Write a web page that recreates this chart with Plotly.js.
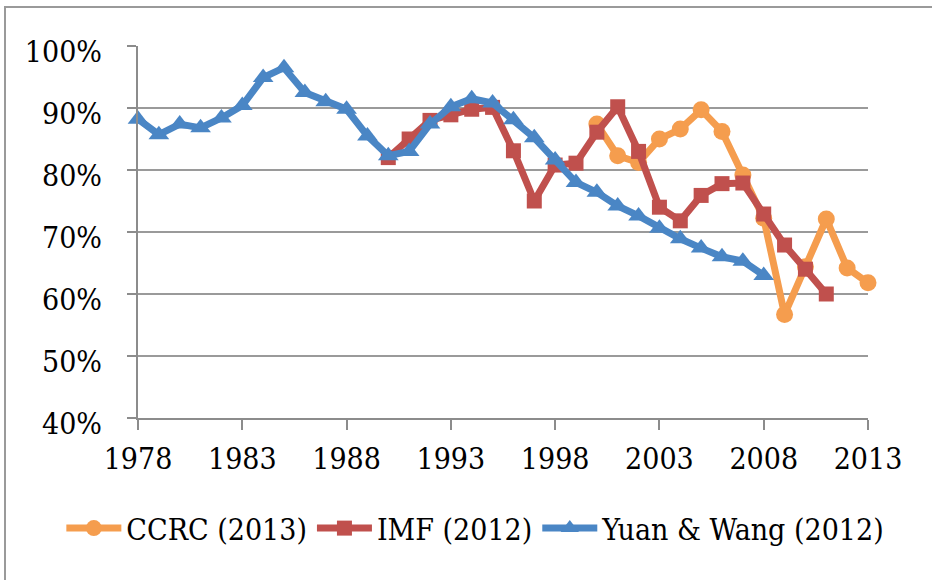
<!DOCTYPE html>
<html>
<head>
<meta charset="utf-8">
<script src="https://cdn.plot.ly/plotly-3.0.1.min.js"></script>
<style>
  html, body { margin: 0; padding: 0; background: #fff; }
  #wrap { position: relative; width: 932px; height: 580px; overflow: hidden; }
  #chart { width: 932px; height: 580px; }
  #frame { position: absolute; left: 4px; top: 6px; width: 1200px; height: 1200px;
           border-left: 2px solid #9a9a9a; border-top: 2px solid #9a9a9a; pointer-events: none; }
</style>
</head>
<body>
<div id="wrap">
  <div id="chart"></div>
  <div id="frame"></div>
</div>
<script>
// ---- data (share values, %) ----
const ccrcYears = [2000, 2001, 2002, 2003, 2004, 2005, 2006, 2007, 2008, 2009, 2010, 2011, 2012, 2013];
const ccrcValues = [87.4, 82.3, 81.2, 85.0, 86.6, 89.7, 86.2, 79.2, 72.2, 56.7, 64.4, 72.1, 64.2, 61.8];

const imfYears = [1990, 1991, 1992, 1993, 1994, 1995, 1996, 1997, 1998, 1999, 2000,
                  2001, 2002, 2003, 2004, 2005, 2006, 2007, 2008, 2009, 2010, 2011];
const imfValues = [82.0, 85.0, 88.0, 88.9, 89.8, 90.1, 83.1, 75.0, 80.8, 81.1, 86.1,
                   90.2, 83.0, 74.0, 71.8, 75.9, 77.8, 77.9, 72.9, 67.9, 64.0, 60.0];

const ywYears = [1978, 1979, 1980, 1981, 1982, 1983, 1984, 1985, 1986, 1987, 1988,
                 1989, 1990, 1991, 1992, 1993, 1994, 1995, 1996, 1997, 1998,
                 1999, 2000, 2001, 2002, 2003, 2004, 2005, 2006, 2007, 2008];
const ywValues = [88.2, 85.7, 87.4, 86.8, 88.4, 90.4, 94.9, 96.5, 92.5, 91.0, 89.8,
                  85.5, 82.3, 83.0, 87.4, 90.2, 91.5, 90.8, 88.1, 85.2, 81.6,
                  78.0, 76.4, 74.2, 72.6, 70.6, 68.9, 67.4, 66.0, 65.3, 63.0];

const seriesNames = ["CCRC (2013)", "IMF (2012)", "Yuan & Wang (2012)"];
const xTickVals = [1978, 1983, 1988, 1993, 1998, 2003, 2008, 2013];
const yTickVals = [40, 50, 60, 70, 80, 90, 100];

const FONT = '"DejaVu Serif Condensed", "DejaVu Serif", "Liberation Serif", serif';
const FS = 30;

const traces = [
  { x: ccrcYears, y: ccrcValues, name: seriesNames[0], type: 'scatter', mode: 'lines+markers', cliponaxis: false,
    line: { color: '#F59D4E', width: 7 }, marker: { symbol: 'circle', size: 17, color: '#F59D4E' } },
  { x: imfYears, y: imfValues, name: seriesNames[1], type: 'scatter', mode: 'lines+markers', cliponaxis: false,
    line: { color: '#C0504D', width: 7 }, marker: { symbol: 'square', size: 15, color: '#C0504D' } },
  { x: ywYears, y: ywValues, name: seriesNames[2], type: 'scatter', mode: 'lines+markers', cliponaxis: false,
    line: { color: '#4A86C5', width: 7 }, marker: { symbol: 'triangle-up', size: 18, color: '#4A86C5' } }
];

const layout = {
  width: 932, height: 580,
  margin: { l: 137.5, r: 64, t: 46, b: 162 },
  paper_bgcolor: '#fff', plot_bgcolor: '#fff',
  font: { family: FONT, size: FS, color: '#000' },
  showlegend: true,
  legend: { orientation: 'h', x: -0.105, xanchor: 'left', y: -0.296, yanchor: 'middle',
            font: { family: FONT, size: FS, color: '#000' }, itemwidth: 55, tracegroupgap: 0,
            bgcolor: 'rgba(0,0,0,0)' },
  xaxis: {
    range: [1978, 2013], tickmode: 'array', tickvals: xTickVals, ticktext: xTickVals.map(String),
    showgrid: false, zeroline: false, showline: true, linecolor: '#8c8c8c', linewidth: 2,
    ticks: 'outside', ticklen: 10, tickwidth: 2, tickcolor: '#8c8c8c',
    ticklabelstandoff: 3, tickfont: { family: FONT, size: FS, color: '#000' }
  },
  yaxis: {
    range: [40, 100], tickmode: 'array', tickvals: yTickVals, ticktext: yTickVals.map(v => v + '%'),
    showgrid: true, gridcolor: '#9a9a9a', gridwidth: 2, zeroline: false,
    showline: true, linecolor: '#8c8c8c', linewidth: 2,
    ticks: 'outside', ticklen: 9, tickwidth: 2, tickcolor: '#8c8c8c',
    ticklabelstandoff: 19, ticklabelshift: 5, tickfont: { family: FONT, size: FS, color: '#000' }
  }
};

Plotly.newPlot('chart', traces, layout, { displayModeBar: false, staticPlot: true });
</script>
</body>
</html>
